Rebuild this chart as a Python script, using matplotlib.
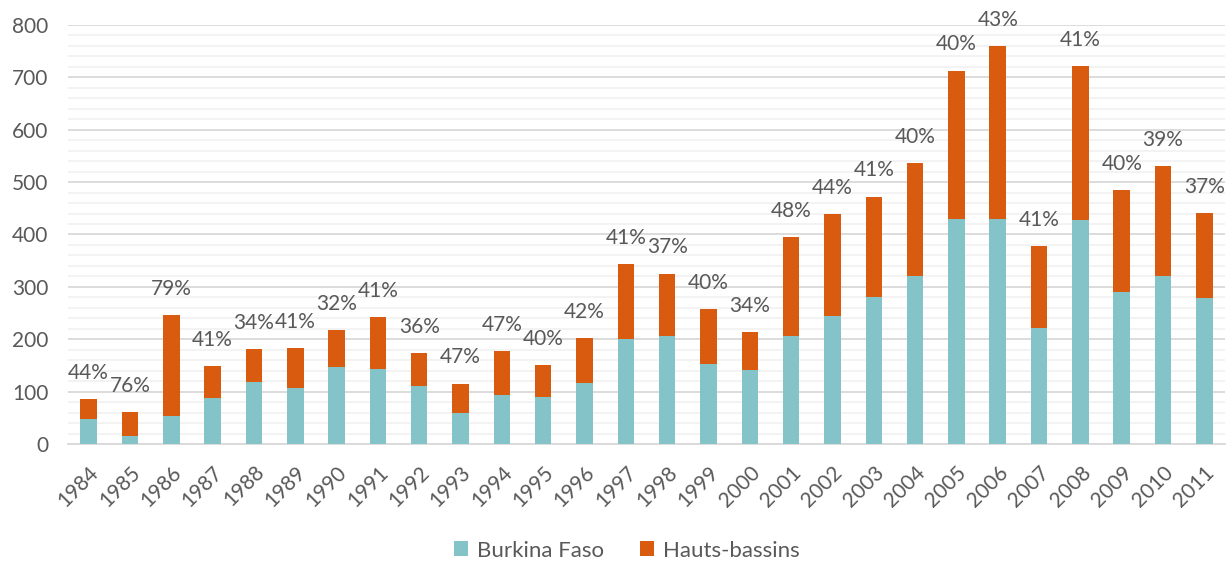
import matplotlib
matplotlib.use("Agg")
import matplotlib.pyplot as plt
from matplotlib.ticker import MultipleLocator

plt.rcParams['font.family'] = ['Lato', 'DejaVu Sans']

years = [str(y) for y in range(1984, 2012)]
burkina = [48, 15, 53, 88, 119, 107, 147, 143, 111, 60, 94, 90, 117, 200,
           206, 153, 141, 206, 245, 280, 320, 430, 430, 222, 427, 291, 321, 278]
hauts = [37, 46, 193, 61, 62, 76, 70, 99, 62, 55, 83, 60, 85, 143,
         119, 104, 72, 189, 194, 192, 216, 283, 330, 156, 294, 193, 209, 163]
pct_labels = ["44%", "76%", "79%", "41%", "34%", "41%", "32%", "41%", "36%", "47%",
              "47%", "40%", "42%", "41%", "37%", "40%", "34%", "48%", "44%", "41%",
              "40%", "40%", "43%", "41%", "41%", "40%", "39%", "37%"]

teal = "#84C4C8"
orange = "#D95B10"
txt = "#595959"

fig = plt.figure(figsize=(12.27, 5.61), dpi=100)
ax = fig.add_axes([0.0554, 0.2086, 0.943, 0.7469])

x = list(range(len(years)))
ax.bar(x, burkina, width=0.4, color=teal, label="Burkina Faso", zorder=3)
ax.bar(x, hauts, width=0.4, bottom=burkina, color=orange, label="Hauts-bassins", zorder=3)

for xi, b, h, lab in zip(x, burkina, hauts, pct_labels):
    ax.annotate(lab, (xi, b + h), xytext=(0, 19), textcoords="offset points",
                ha="center", va="center", fontsize=15, color=txt, zorder=4)

ax.set_xlim(-0.5, len(years) - 0.5)
ax.set_ylim(0, 800)
ax.yaxis.set_major_locator(MultipleLocator(100))
ax.yaxis.set_minor_locator(MultipleLocator(20))
ax.grid(axis="y", which="major", color="#D9D9D9", linewidth=1.3, zorder=0)
ax.grid(axis="y", which="minor", color="#F2F2F2", linewidth=1.3, zorder=0)
ax.set_axisbelow(True)
for s in ["top", "right", "left"]:
    ax.spines[s].set_visible(False)
ax.spines["bottom"].set_color("#D9D9D9")
ax.spines["bottom"].set_linewidth(1.3)

ax.set_xticks(x)
ax.set_xticklabels(years, rotation=45, ha="right", rotation_mode="anchor")
ax.tick_params(axis="x", length=0, pad=13, labelsize=15, labelcolor=txt)
ax.tick_params(axis="y", which="both", length=0, pad=14, labelsize=15, labelcolor=txt)

leg = fig.legend(loc="lower center", bbox_to_anchor=(0.511, -0.035), ncol=2, frameon=False,
                 fontsize=16, handlelength=0.65, handleheight=0.65, columnspacing=1.6,
                 handletextpad=0.4, labelcolor=txt)

fig.savefig("out.png", dpi=100)
